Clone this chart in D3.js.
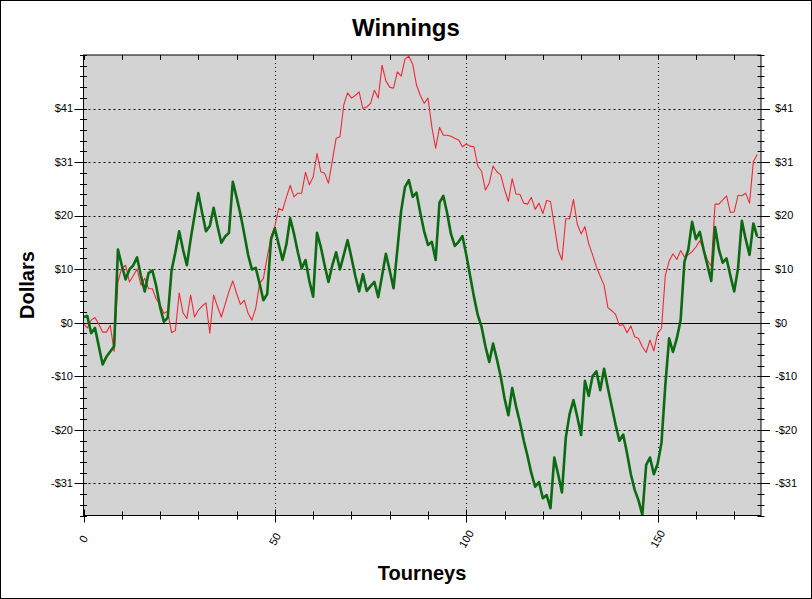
<!DOCTYPE html>
<html>
<head>
<meta charset="utf-8">
<script src="https://cdn.jsdelivr.net/npm/d3@7"></script>
<style>
  html, body { margin: 0; padding: 0; background: #fff; }
  svg { display: block; }
  text { font-family: Arial, "Liberation Sans", sans-serif; }
</style>
</head>
<body>
<svg id="chart" width="812" height="599"></svg>
<script>
// ---- data ----
const chartTitle = "Winnings";
const xTitle = "Tourneys";
const yTitle = "Dollars";

// cumulative winnings per tourney (index = tourney number)
const redSeries = [
  -0.2, -1.0, 0.5, 1.0, -0.3, -1.8, -1.8, -0.5, -5.5, 7.8,
  10.5, 11.0, 7.8, 9.0, 10.3, 7.2, 8.5, 6.5, 6.5, 4.5,
  3.5, 1.8, 2.2, -1.9, -1.5, 5.7, 1.9, 0.8, 5.3, 1.1,
  2.4, 3.2, 3.8, -2.0, 5.3, 3.1, 1.1, 3.5, 6.0, 8.0,
  5.6, 3.5, 4.3, 1.8, 0.5, 2.8, 7.5, 8.5, 12.6, 16.5,
  18.5, 21.9, 21.5, 24.0, 26.3, 24.1, 24.8, 24.8, 28.8, 26.4,
  27.9, 32.4, 28.9, 28.6, 26.7, 31.0, 35.3, 35.6, 41.7, 44.0,
  43.0, 43.5, 44.2, 41.0, 41.3, 42.0, 44.5, 43.0, 49.3, 46.3,
  45.1, 44.9, 48.0, 47.2, 50.5, 51.0, 49.5, 45.5, 43.5, 42.0,
  43.0, 37.5, 33.4, 37.4, 35.9, 35.9, 35.7, 35.3, 35.0, 33.7,
  34.2, 33.8, 33.7, 30.0, 29.0, 25.4, 26.7, 30.0, 28.9, 28.3,
  25.5, 23.2, 27.6, 24.6, 24.6, 22.9, 22.7, 24.0, 21.7, 22.9,
  20.9, 23.4, 23.2, 18.7, 13.9, 12.0, 19.9, 19.9, 23.6, 18.9,
  17.0, 18.4, 15.1, 13.0, 10.7, 8.9, 7.2, 2.9, 2.3, 1.6,
  -0.5, -0.4, -1.9, -0.6, -2.7, -3.0, -4.6, -5.7, -3.3, -5.4,
  -2.0, -1.1, 9.0, 11.8, 13.2, 12.1, 13.8, 12.6, 13.0, 13.6,
  14.5, 15.7, 14.0, 12.0, 10.8, 22.7, 22.7, 23.5, 24.3, 21.1,
  21.2, 24.4, 24.3, 24.8, 22.9, 30.8, 32.2
];

const greenSeries = [
  1.1, 1.3, -2.0, -1.0, -4.5, -8.0, -6.5, -5.5, -4.5, 14.0,
  11.0, 8.3, 10.2, 11.0, 12.5, 9.0, 6.0, 9.5, 10.0, 7.0,
  3.0, 0.2, 1.0, 10.0, 13.5, 17.5, 14.0, 11.0, 16.0, 20.5,
  24.8, 21.0, 17.5, 18.5, 22.0, 18.5, 15.3, 16.5, 17.2, 27.0,
  24.0, 20.8, 17.0, 13.0, 10.2, 10.5, 7.5, 4.3, 5.5, 16.0,
  18.0, 15.0, 12.0, 15.0, 20.0, 17.0, 13.5, 10.4, 12.0, 8.0,
  5.0, 17.2, 14.5, 11.0, 7.8, 11.0, 13.5, 10.2, 13.0, 15.8,
  12.5, 9.0, 6.0, 9.3, 6.1, 7.0, 7.8, 4.9, 9.0, 13.2,
  10.0, 6.6, 14.0, 21.5, 26.0, 27.3, 24.1, 24.9, 21.0, 17.5,
  14.9, 15.5, 12.0, 23.0, 24.3, 21.0, 17.0, 14.7, 15.5, 16.6,
  13.0, 9.0, 5.0, 1.5, -0.8, -4.5, -7.5, -4.0, -7.0, -10.3,
  -14.5, -17.7, -12.5, -16.0, -19.0, -22.5, -25.5, -28.8, -31.4, -30.5,
  -33.6, -33.0, -35.5, -25.8, -29.0, -32.5, -22.0, -17.5, -14.8, -18.0,
  -21.5, -11.1, -14.0, -10.2, -9.3, -12.9, -8.8, -12.5, -16.0, -19.5,
  -22.6, -21.4, -25.0, -29.0, -32.0, -34.0, -36.8, -27.2, -25.8, -29.0,
  -27.0, -23.0, -12.0, -3.0, -5.6, -3.0, 0.5, 11.7, 14.0, 19.3,
  16.0, 17.4, 14.0, 11.0, 8.0, 18.3, 14.0, 11.5, 12.3, 9.0,
  6.0, 10.4, 19.5, 16.0, 13.0, 19.0, 16.5
];

const yTickValues = [-30.75, -20.5, -10.25, 0, 10.25, 20.5, 30.75, 41];
const yTickLabels = ["-$31", "-$20", "-$10", "$0", "$10", "$20", "$31", "$41"];
const xTickValues = [0, 50, 100, 150];
const xTickLabels = ["0", "50", "100", "150"];

// ---- layout ----
(function () {
const svg = d3.select("#chart");
const W = 812, H = 599;
const pL = 83.5, pR = 761, pT = 55, pB = 515.5;

const x = d3.scaleLinear().domain([0, 177]).range([pL, pR]);
const y = d3.scaleLinear().domain([-36.9, 51.25]).range([pB, pT]);

// outer frame
svg.append("rect").attr("x", 0.5).attr("y", 0.5).attr("width", W - 1).attr("height", H - 1)
  .attr("fill", "#fff").attr("stroke", "#000").attr("stroke-width", 1);

// plot background
svg.append("rect").attr("x", pL).attr("y", pT)
  .attr("width", pR - pL).attr("height", pB - pT)
  .attr("fill", "#d3d3d3");

// clip
svg.append("clipPath").attr("id", "clip").append("rect")
  .attr("x", pL).attr("y", pT).attr("width", pR - pL).attr("height", pB - pT);

// grid lines
const grid = svg.append("g");
grid.selectAll("line.hg").data(yTickValues.filter(v => v !== 0)).join("line")
  .attr("x1", pL).attr("x2", pR)
  .attr("y1", d => Math.round(y(d)) + 0.5).attr("y2", d => Math.round(y(d)) + 0.5)
  .attr("stroke", "#000").attr("stroke-width", 1).attr("stroke-dasharray", "2,3");
grid.selectAll("line.vg").data(xTickValues.filter(v => v !== 0)).join("line")
  .attr("y1", pT).attr("y2", pB)
  .attr("x1", d => Math.round(x(d)) + 0.5).attr("x2", d => Math.round(x(d)) + 0.5)
  .attr("stroke", "#000").attr("stroke-width", 1).attr("stroke-dasharray", "1,3");
// zero line
grid.append("line").attr("x1", pL).attr("x2", pR)
  .attr("y1", Math.round(y(0)) + 0.5).attr("y2", Math.round(y(0)) + 0.5)
  .attr("stroke", "#000").attr("stroke-width", 1);

// series
const line = d3.line().x((d, i) => x(i)).y(d => y(d));
const series = svg.append("g").attr("clip-path", "url(#clip)");
series.append("path").datum(redSeries).attr("d", line)
  .attr("fill", "none").attr("stroke", "#ee2a36").attr("stroke-width", 1.1)
  .attr("stroke-linejoin", "round");
series.append("path").datum(greenSeries).attr("d", line)
  .attr("fill", "none").attr("stroke", "#0b6a12").attr("stroke-width", 2.6)
  .attr("stroke-linejoin", "round");

// frame of plot
svg.append("rect").attr("x", pL).attr("y", pT)
  .attr("width", pR - pL).attr("height", pB - pT)
  .attr("fill", "none").attr("stroke", "#000").attr("stroke-width", 1);

// y axes
const minorY = d3.range(-18, 26).map(k => k * 2.05).filter(v => v >= -36.95 && v <= 51.3);
function drawYAxis(xPos, dir, anchor, labelX) {
  const g = svg.append("g");
  g.selectAll("line.mn").data(minorY).join("line")
    .attr("x1", xPos - 3.5).attr("x2", xPos + 3.5)
    .attr("y1", d => Math.round(y(d)) + 0.5).attr("y2", d => Math.round(y(d)) + 0.5)
    .attr("stroke", "#000");
  g.selectAll("line.mj").data(yTickValues).join("line")
    .attr("x1", xPos - 3.5 * dir).attr("x2", xPos + 9 * dir)
    .attr("y1", d => Math.round(y(d)) + 0.5).attr("y2", d => Math.round(y(d)) + 0.5)
    .attr("stroke", "#000");
  g.selectAll("text").data(yTickValues).join("text")
    .attr("x", labelX).attr("y", d => y(d))
    .attr("dy", "0.35em").attr("text-anchor", anchor)
    .attr("font-size", "11px").attr("fill", "#000")
    .text((d, i) => yTickLabels[i]);
}
drawYAxis(pL, -1, "end", 73);
drawYAxis(pR, 1, "start", 775);

// x axis ticks
const minorX = d3.range(0, 178, 10);
const xg = svg.append("g");
xg.selectAll("line.bt").data(minorX).join("line")
  .attr("x1", d => Math.round(x(d)) + 0.5).attr("x2", d => Math.round(x(d)) + 0.5)
  .attr("y1", pB - 4).attr("y2", pB + 4)
  .attr("stroke", "#000");
xg.selectAll("line.bm").data(xTickValues).join("line")
  .attr("x1", d => Math.round(x(d)) + 0.5).attr("x2", d => Math.round(x(d)) + 0.5)
  .attr("y1", pB - 6).attr("y2", pB + 7)
  .attr("stroke", "#000");
xg.selectAll("line.tt").data(minorX).join("line")
  .attr("x1", d => Math.round(x(d)) + 0.5).attr("x2", d => Math.round(x(d)) + 0.5)
  .attr("y1", pT).attr("y2", pT + 5)
  .attr("stroke", "#000");
xg.selectAll("text").data(xTickValues).join("text")
  .attr("transform", d => `translate(${x(d)},539) rotate(-60)`)
  .attr("text-anchor", "middle").attr("dy", "0.35em")
  .attr("font-size", "11px").attr("fill", "#000")
  .text((d, i) => xTickLabels[i]);

// titles
svg.append("text").attr("x", 406).attr("y", 36).attr("text-anchor", "middle")
  .attr("font-size", "24px").attr("font-weight", "bold").text(chartTitle);
svg.append("text").attr("x", 422).attr("y", 580).attr("text-anchor", "middle")
  .attr("font-size", "20px").attr("font-weight", "bold").text(xTitle);
svg.append("text").attr("transform", "translate(34,285) rotate(-90)")
  .attr("text-anchor", "middle")
  .attr("font-size", "20px").attr("font-weight", "bold").text(yTitle);
})();
</script>
</body>
</html>
